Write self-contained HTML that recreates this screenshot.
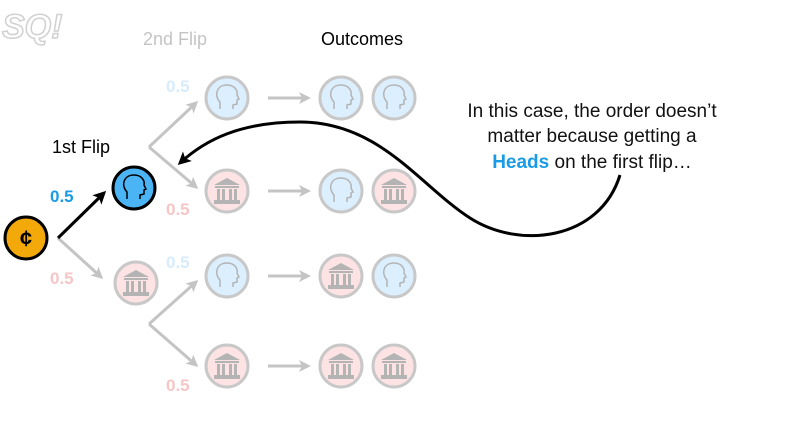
<!DOCTYPE html>
<html><head><meta charset="utf-8"><style>
html,body{margin:0;padding:0;background:#fff;}
svg{display:block;font-family:"Liberation Sans",sans-serif;}
</style></head><body>
<svg width="789" height="447" viewBox="0 0 789 447" xmlns="http://www.w3.org/2000/svg">
<defs>
<marker id="ag" markerWidth="12" markerHeight="12" refX="9" refY="6" orient="auto" markerUnits="userSpaceOnUse"><path d="M0,0 L12,6 L0,12 L3,6Z" fill="#c4c4c4"/></marker>
<marker id="ab" markerWidth="13" markerHeight="13" refX="10" refY="6.5" orient="auto" markerUnits="userSpaceOnUse"><path d="M0,0 L13,6.5 L0,13 L3,6.5Z" fill="#000"/></marker>
<g id="head"><path d="M-7,11 L-7,4 C-13,-2 -11,-13 0,-13 C8,-13 11,-7 10,-3 L12,1 L10,2 L10,6 L6,7 L6,11" fill="none" stroke-width="1.5"/></g>
<g id="temple"><path d="M-13,-6 L0,-13 L13,-6Z" /><rect x="-12" y="-5" width="24" height="2"/><rect x="-10" y="-2" width="3" height="11"/><rect x="-5" y="-2" width="3" height="11"/><rect x="2" y="-2" width="3" height="11"/><rect x="7" y="-2" width="3" height="11"/><rect x="-13" y="9" width="26" height="4"/></g>
<g id="H"><circle r="21" fill="#dcefff" stroke="#c8c8c8" stroke-width="3"/><use href="#head" stroke="#b4b4b4"/></g>
<g id="T"><circle r="21" fill="#fde3e3" stroke="#c8c8c8" stroke-width="3"/><use href="#temple" fill="#b4b4b4"/></g>
</defs>
<g opacity="0.3"><text x="2" y="38" font-size="34" font-weight="bold" font-style="italic" fill="#fff" stroke="#666" stroke-width="1.5">SQ!</text></g>
<text x="143" y="45" font-size="18" fill="#c4c4c4">2nd Flip</text>
<text x="321" y="45" font-size="18" fill="#000">Outcomes</text>
<text x="52" y="153" font-size="18" fill="#000">1st Flip</text>
<g stroke="#c4c4c4" stroke-width="3" fill="none" marker-end="url(#ag)">
<path d="M58,238 L101,277"/>
<path d="M149,147 L196,103"/><path d="M149,147 L196,187"/>
<path d="M149,324 L196,282"/><path d="M149,324 L196,365"/>
<path d="M268,98 L308,98"/><path d="M268,191 L308,191"/><path d="M268,276 L308,276"/><path d="M268,366 L308,366"/>
</g>
<path d="M58,238 L104,193" stroke="#000" stroke-width="3" marker-end="url(#ab)"/>
<g font-size="17" font-weight="bold">
<text x="50" y="202" fill="#1a9be6">0.5</text>
<text x="50" y="284" fill="#f5c6c6">0.5</text>
<text x="166" y="92" fill="#d6ecfd">0.5</text>
<text x="166" y="215" fill="#f5c6c6">0.5</text>
<text x="166" y="268" fill="#d6ecfd">0.5</text>
<text x="166" y="391" fill="#f5c6c6">0.5</text>
</g>
<circle cx="26" cy="238" r="21" fill="#f4a90a" stroke="#000" stroke-width="3"/>
<text x="26" y="246" font-size="22" font-weight="bold" text-anchor="middle" fill="#000">¢</text>
<circle cx="134" cy="188" r="21" fill="#4ab4f5" stroke="#000" stroke-width="3"/>
<use href="#head" x="134" y="188" stroke="#000"/>
<use href="#T" x="136" y="283"/>
<use href="#H" x="227" y="98"/><use href="#T" x="227" y="191"/><use href="#H" x="227" y="276"/><use href="#T" x="227" y="366"/>
<use href="#H" x="341" y="98"/><use href="#H" x="394" y="98"/>
<use href="#H" x="341" y="191"/><use href="#T" x="394" y="191"/>
<use href="#T" x="341" y="276"/><use href="#H" x="394" y="276"/>
<use href="#T" x="341" y="366"/><use href="#T" x="394" y="366"/>
<path d="M620,175 C600,240 520,250 470,218 C420,186 380,122 300,122 C240,122 205,140 180,163" fill="none" stroke="#000" stroke-width="3" marker-end="url(#ab)"/>
<g font-size="19" text-anchor="middle" fill="#111">
<text x="592" y="117">In this case, the order doesn’t</text>
<text x="592" y="142">matter because getting a</text>
<text x="592" y="168"><tspan fill="#1a9be6" font-weight="bold">Heads</tspan> on the first flip…</text>
</g>
</svg>
</body></html>
